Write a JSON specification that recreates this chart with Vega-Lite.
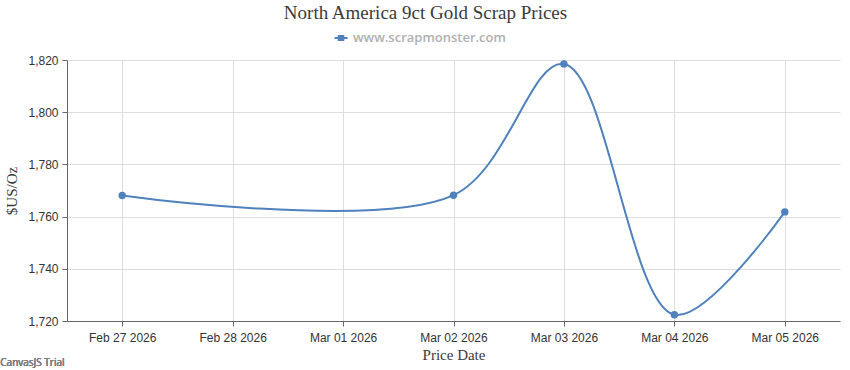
{
  "$schema": "https://vega.github.io/schema/vega-lite/v6.json",
  "width": 773,
  "height": 261,
  "autosize": {"type": "none"},
  "padding": {"left": 67, "top": 60, "right": 10, "bottom": 49},
  "background": "white",
  "title": {
    "text": "North America 9ct Gold Scrap Prices",
    "font": "Liberation Serif",
    "fontSize": 19,
    "fontWeight": "normal",
    "color": "#3a3a3a",
    "anchor": "middle",
    "dx": -28,
    "offset": 7
  },
  "config": {
    "view": {"stroke": null},
    "axis": {
      "labelFont": "Liberation Sans",
      "labelFontSize": 12,
      "labelColor": "#333333",
      "titleFont": "Liberation Serif",
      "titleFontSize": 15,
      "titleFontWeight": "normal",
      "titleColor": "#3a3a3a",
      "domainColor": "#666666",
      "tickColor": "#666666",
      "tickSize": 5,
      "gridColor": "#dddddd"
    }
  },
  "data": {
    "values": [
      {"date": "2026-02-27T00:00:00", "price": 1768.1, "series": "www.scrapmonster.com"},
      {"date": "2026-03-02T00:00:00", "price": 1768.2, "series": "www.scrapmonster.com"},
      {"date": "2026-03-03T00:00:00", "price": 1818.5, "series": "www.scrapmonster.com"},
      {"date": "2026-03-04T00:00:00", "price": 1722.4, "series": "www.scrapmonster.com"},
      {"date": "2026-03-05T00:00:00", "price": 1761.8, "series": "www.scrapmonster.com"}
    ]
  },
  "encoding": {
    "x": {
      "field": "date",
      "type": "temporal",
      "scale": {"domain": ["2026-02-26T12:00:00", "2026-03-05T12:00:00"]},
      "axis": {
        "title": "Price Date",
        "format": "%b %d %Y",
        "labelAngle": 0,
        "values": ["2026-02-27T00:00:00", "2026-02-28T00:00:00", "2026-03-01T00:00:00", "2026-03-02T00:00:00", "2026-03-03T00:00:00", "2026-03-04T00:00:00", "2026-03-05T00:00:00"],
        "labelPadding": 6,
        "titlePadding": 4
      }
    },
    "y": {
      "field": "price",
      "type": "quantitative",
      "scale": {"domain": [1720, 1820], "nice": false, "zero": false},
      "axis": {
        "title": "$US/Oz",
        "format": ",.0f",
        "values": [1720, 1740, 1760, 1780, 1800, 1820],
        "labelPadding": 4,
        "titlePadding": 8
      }
    },
    "color": {
      "field": "series",
      "type": "nominal",
      "scale": {"range": ["#4f81bc"]},
      "legend": {
        "title": null,
        "orient": "none",
        "legendX": 266,
        "legendY": -30,
        "symbolType": "M-1,0L1,0M-0.35,-0.3L0.35,-0.3L0.35,0.3L-0.35,0.3Z",
        "symbolSize": 170,
        "symbolStrokeWidth": 2,
        "symbolFillColor": "#4f81bc",
        "labelFont": "Open Sans",
        "labelFontSize": 13,
        "labelFontWeight": 600,
        "labelColor": "#b0b0b0"
      }
    }
  },
  "layer": [
    {
      "mark": {"type": "line", "interpolate": "catmull-rom", "strokeWidth": 2}
    },
    {
      "mark": {"type": "point", "filled": true, "size": 55, "opacity": 1}
    },
    {
      "mark": {"type": "text", "text": "CanvasJS Trial", "font": "Open Sans", "fontSize": 10, "fontWeight": "normal", "align": "left", "baseline": "middle", "clip": false},
      "encoding": {
        "x": {"datum": {"year": 2026, "month": 2, "date": 25, "hours": 21, "minutes": 30}, "type": "temporal"},
        "y": {"datum": 1704, "type": "quantitative"},
        "color": {"value": "#808080"}
      }
    }
  ]
}
